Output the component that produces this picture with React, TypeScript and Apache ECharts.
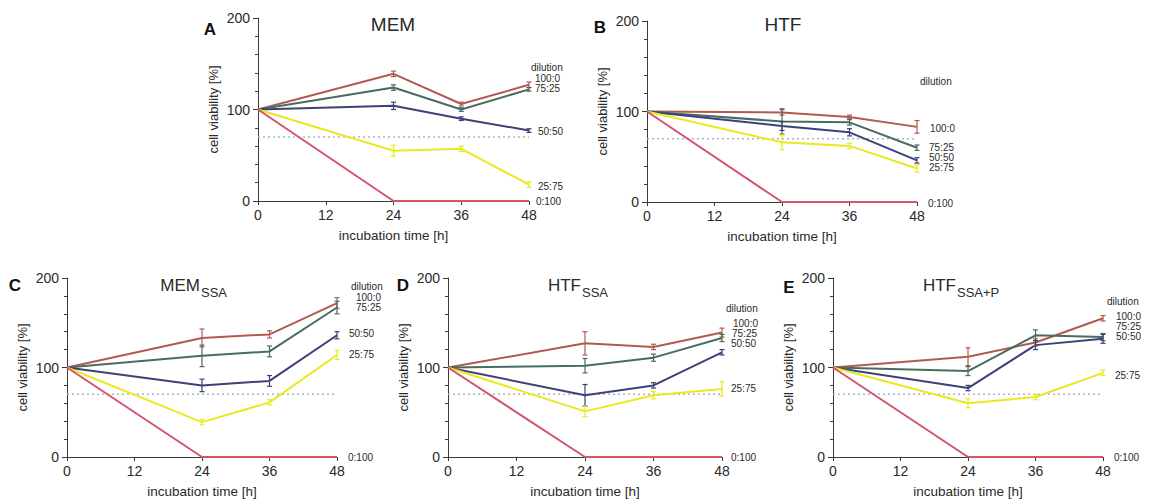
import React, { useEffect, useRef } from "react";
import * as echarts from "echarts";

// ---- data ----
const times = [0, 24, 36, 48];
const dilutions = ["100:0", "75:25", "50:50", "25:75", "0:100"];
const thresholdValue = 70;
const xTicks = [0, 12, 24, 36, 48];

// A: MEM (rows follow dilutions)
const memMean = [
  [100, 139, 106, 127],
  [100, 124, 100, 122],
  [100, 104, 90, 77],
  [100, 55, 57, 18],
  [100, 0, 0, 0],
];
const memErr = [
  [0, 3, 2, 3],
  [0, 3, 2, 2],
  [0, 4, 2, 2],
  [0, 6, 3, 3],
  [0, 0, 0, 0],
];
// B: HTF
const htfMean = [
  [100, 99, 94, 83],
  [100, 89, 88, 60],
  [100, 84, 77, 46],
  [100, 66, 62, 37],
  [100, 0, 0, 0],
];
const htfErr = [
  [0, 3, 2, 7],
  [0, 14, 3, 3],
  [0, 5, 4, 3],
  [0, 8, 3, 4],
  [0, 0, 0, 0],
];
// C: MEM SSA
const memSsaMean = [
  [100, 133, 137, 172],
  [100, 113, 118, 167],
  [100, 80, 85, 136],
  [100, 39, 61, 114],
  [100, 0, 0, 0],
];
const memSsaErr = [
  [0, 10, 4, 6],
  [0, 12, 6, 7],
  [0, 7, 6, 4],
  [0, 3, 3, 5],
  [0, 0, 0, 0],
];
// D: HTF SSA
const htfSsaMean = [
  [100, 127, 123, 139],
  [100, 102, 111, 133],
  [100, 69, 80, 117],
  [100, 51, 69, 76],
  [100, 0, 0, 0],
];
const htfSsaErr = [
  [0, 13, 3, 5],
  [0, 8, 4, 4],
  [0, 12, 3, 3],
  [0, 6, 4, 8],
  [0, 0, 0, 0],
];
// E: HTF SSA+P
const htfSsaPMean = [
  [100, 112, 128, 155],
  [100, 96, 136, 134],
  [100, 77, 125, 132],
  [100, 60, 67, 94],
  [100, 0, 0, 0],
];
const htfSsaPErr = [
  [0, 10, 4, 3],
  [0, 5, 6, 4],
  [0, 3, 5, 5],
  [0, 5, 3, 3],
  [0, 0, 0, 0],
];

// ---- styling / layout ----
const FONT = "Liberation Sans";
const colors = ["#b25a50", "#4a6c60", "#3c4178", "#e9e920", "#d4546a"];
const axisColor = "#3a3a3a";
const textColor = "#2a2a2a";
const labelSize = 10;

const panels = [
  {
    letter: "A", lx: 210, ly: 29,
    mean: memMean, err: memErr,
    grid: { left: 258, top: 18, width: 271, height: 183 },
    title: "MEM", sub: "", tx: 393, ty: 24, tSize: 19,
    dil: [531, 67],
    lxs: [535, 535, 538, 538, 536],
    lys: [78, 88, 131, 186, 201],
  },
  {
    letter: "B", lx: 600, ly: 27,
    mean: htfMean, err: htfErr,
    grid: { left: 647, top: 21, width: 270, height: 181 },
    title: "HTF", sub: "", tx: 783, ty: 24, tSize: 19,
    dil: [920, 81],
    lxs: [930, 929, 929, 929, 928],
    lys: [128, 147, 157, 167, 203],
  },
  {
    letter: "C", lx: 15, ly: 285,
    mean: memSsaMean, err: memSsaErr,
    grid: { left: 67, top: 278, width: 270, height: 179 },
    title: "MEM", sub: "SSA", tx: 200, ty: 285, tSize: 17,
    dil: [351, 286],
    lxs: [356, 356, 349, 349, 348],
    lys: [297, 307, 333, 354, 457],
  },
  {
    letter: "D", lx: 403, ly: 285,
    mean: htfSsaMean, err: htfSsaErr,
    grid: { left: 448, top: 278, width: 274, height: 179 },
    title: "HTF", sub: "SSA", tx: 581, ty: 285, tSize: 17,
    dil: [726, 308],
    lxs: [733, 732, 731, 731, 731],
    lys: [323, 333, 343, 388, 457],
  },
  {
    letter: "E", lx: 789, ly: 287,
    mean: htfSsaPMean, err: htfSsaPErr,
    grid: { left: 833, top: 278, width: 270, height: 179 },
    title: "HTF", sub: "SSA+P", tx: 956, ty: 285, tSize: 17,
    dil: [1107, 301],
    lxs: [1116, 1116, 1116, 1115, 1114],
    lys: [316, 326, 336, 375, 457],
  },
];

function buildOption() {
  const grid: any[] = [];
  const xAxis: any[] = [];
  const yAxis: any[] = [];
  const series: any[] = [];
  const graphic: any[] = [];

  panels.forEach((p, i) => {
    grid.push({ ...p.grid, containLabel: false });
    xAxis.push({
      type: "value",
      gridIndex: i,
      min: xTicks[0],
      max: xTicks[xTicks.length - 1],
      interval: 12,
      name: "incubation time [h]",
      nameLocation: "middle",
      nameGap: 27,
      nameTextStyle: { fontFamily: FONT, fontSize: 13.5, color: textColor },
      axisLine: { show: true, lineStyle: { color: axisColor, width: 1 } },
      axisTick: { show: true, length: 4, lineStyle: { color: axisColor } },
      axisLabel: { fontFamily: FONT, fontSize: 14, color: textColor, margin: 7 },
      splitLine: { show: false },
    });
    yAxis.push({
      type: "value",
      gridIndex: i,
      min: 0,
      max: 200,
      interval: 100,
      name: "cell viability [%]",
      nameLocation: "middle",
      nameGap: 38,
      nameTextStyle: { fontFamily: FONT, fontSize: 13, color: textColor },
      axisLine: { show: true, lineStyle: { color: axisColor, width: 1 } },
      axisTick: { show: true, length: 5, lineStyle: { color: axisColor } },
      minorTick: { show: true, splitNumber: 5, length: 3, lineStyle: { color: axisColor } },
      axisLabel: { fontFamily: FONT, fontSize: 14, color: textColor, margin: 8 },
      splitLine: { show: false },
      minorSplitLine: { show: false },
    });

    // threshold dotted line
    series.push({
      type: "line",
      xAxisIndex: i,
      yAxisIndex: i,
      data: [
        [xTicks[0], thresholdValue],
        [xTicks[xTicks.length - 1], thresholdValue],
      ],
      symbol: "none",
      silent: true,
      lineStyle: { color: "#a6b6c9", width: 1.5, type: [2, 3] },
      z: 1,
    });

    dilutions.forEach((d, k) => {
      series.push({
        type: "line",
        name: d,
        xAxisIndex: i,
        yAxisIndex: i,
        data: times.map((t, j) => [t, p.mean[k][j]]),
        symbol: "none",
        showSymbol: false,
        lineStyle: { color: colors[k], width: 2 },
        itemStyle: { color: colors[k] },
        z: 2 + k,
      });
      const errData = times
        .map((t, j) => [t, p.mean[k][j], p.err[k][j]])
        .filter((r) => r[2] > 0);
      series.push({
        type: "custom",
        xAxisIndex: i,
        yAxisIndex: i,
        data: errData,
        encode: { x: 0, y: 1 },
        clip: false,
        z: 8,
        renderItem: (params: any, api: any) => {
          const x = api.value(0);
          const y = api.value(1);
          const e = api.value(2);
          const top = api.coord([x, y + e]);
          const bot = api.coord([x, y - e]);
          const w = 2.5;
          const st = { stroke: colors[k], lineWidth: 1.2 };
          return {
            type: "group",
            children: [
              { type: "line", shape: { x1: top[0], y1: top[1], x2: bot[0], y2: bot[1] }, style: st },
              { type: "line", shape: { x1: top[0] - w, y1: top[1], x2: top[0] + w, y2: top[1] }, style: st },
              { type: "line", shape: { x1: bot[0] - w, y1: bot[1], x2: bot[0] + w, y2: bot[1] }, style: st },
            ],
          };
        },
      });
    });

    // panel letter
    graphic.push({
      type: "text",
      x: p.lx,
      y: p.ly,
      style: {
        text: p.letter,
        fontFamily: FONT,
        fontSize: 17,
        fontWeight: "bold",
        fill: "#111",
        textAlign: "center",
        textVerticalAlign: "middle",
      },
    });
    // titles
    if (p.sub) {
      graphic.push({
        type: "text",
        x: p.tx,
        y: p.ty,
        style: {
          text: p.title,
          fontFamily: FONT,
          fontSize: p.tSize,
          fill: textColor,
          textAlign: "right",
          textVerticalAlign: "middle",
        },
      });
      graphic.push({
        type: "text",
        x: p.tx + 1,
        y: p.ty + 7,
        style: {
          text: p.sub,
          fontFamily: FONT,
          fontSize: 13,
          fill: textColor,
          textAlign: "left",
          textVerticalAlign: "middle",
        },
      });
    } else {
      graphic.push({
        type: "text",
        x: p.tx,
        y: p.ty,
        style: {
          text: p.title,
          fontFamily: FONT,
          fontSize: p.tSize,
          fill: textColor,
          textAlign: "center",
          textVerticalAlign: "middle",
        },
      });
    }
    // dilution legend header
    graphic.push({
      type: "text",
      x: p.dil[0],
      y: p.dil[1],
      style: {
        text: "dilution",
        fontFamily: FONT,
        fontSize: labelSize,
        fill: textColor,
        textAlign: "left",
        textVerticalAlign: "middle",
      },
    });
    dilutions.forEach((d, k) => {
      graphic.push({
        type: "text",
        x: p.lxs[k],
        y: p.lys[k],
        style: {
          text: d,
          fontFamily: FONT,
          fontSize: labelSize,
          fill: textColor,
          textAlign: "left",
          textVerticalAlign: "middle",
        },
      });
    });
  });

  return {
    animation: false,
    backgroundColor: "#ffffff",
    grid,
    xAxis,
    yAxis,
    series,
    graphic,
  };
}

export default function App() {
  const ref = useRef<HTMLDivElement | null>(null);
  useEffect(() => {
    document.body.style.margin = "0";
    if (!ref.current) return;
    const chart = echarts.init(ref.current, null, { renderer: "svg" });
    chart.setOption(buildOption() as any);
    return () => {
      chart.dispose();
    };
  }, []);
  return <div ref={ref} style={{ width: 1152, height: 504, background: "#fff" }} />;
}
